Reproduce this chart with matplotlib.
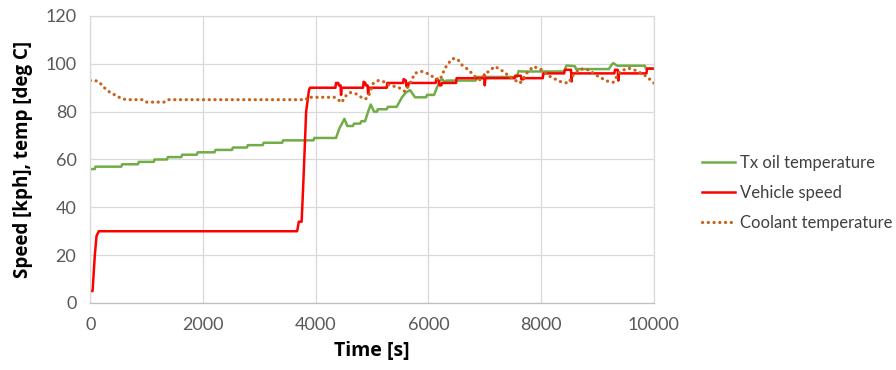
import numpy as np
from matplotlib import pyplot as plt

# Tx oil temperature (deg C) vs time (s)
tx_t = [0, 80, 90, 550, 565, 845, 860, 1125, 1140, 1360, 1375, 1615, 1630, 1890, 1905,
        2205, 2220, 2515, 2530, 2780, 2795, 3060, 3075, 3405, 3420, 3960, 3975, 4360,
        4420, 4510, 4560, 4660, 4680, 4790, 4810, 4875, 4930, 4976, 5035, 5090, 5100,
        5260, 5280, 5437, 5530, 5600, 5674, 5762, 5960, 5975, 6100, 6150, 6206, 6250,
        6300, 6320, 6840, 6860, 7570, 7600, 7650, 8410, 8450, 8600, 8620, 9200, 9250,
        9280, 9350, 9840, 9860, 10000]
tx_v = [56, 56, 57, 57, 58, 58, 59, 59, 60, 60, 61, 61, 62, 62, 63,
        63, 64, 64, 65, 65, 66, 66, 67, 67, 68, 68, 69, 69,
        73, 77, 74, 74, 75, 75, 76, 76, 80, 83, 80, 80, 81,
        81, 82, 82, 86, 88, 89, 86, 86, 87, 87, 90, 93, 93.5,
        92, 93, 93, 94.5, 94.5, 97, 96.8, 96.8, 99.3, 99, 97.8, 97.8, 99.5,
        100.3, 99.2, 99.2, 98, 98]

# Vehicle speed (kph)
spd_t = [0, 40, 80, 110, 150, 3670, 3700, 3750, 3780, 3830, 3880, 3900,
         4350, 4360, 4400, 4410, 4440, 4450, 4460, 4840, 4850, 4880, 4890, 4920,
         4930, 4940, 5260, 5270, 5550, 5560, 5600, 5610, 5640, 5650, 6130, 6140,
         6180, 6200, 6230, 6240, 6490, 6500, 6980, 6990, 7000, 7010, 7530, 7540,
         7640, 7650, 7680, 7690, 8030, 8040, 8410, 8420, 8530, 8540, 8550, 9300,
         9310, 9360, 9370, 9380, 9870, 9880, 10000]
spd_v = [5, 5, 20, 28, 30, 30, 34, 34, 50, 80, 89, 90,
         90, 92, 92, 91, 91, 87, 90, 90, 92.5, 92, 91, 91,
         87.5, 90, 90, 92, 92, 93.6, 93, 90.5, 90.5, 92, 92, 93.6,
         93, 91, 91, 92, 92, 94, 94, 95.5, 91, 94, 94, 95,
         95, 93.5, 93.5, 94, 94, 96, 96, 97.5, 97.5, 92.6, 96, 96,
         97.5, 97.5, 93, 96, 96, 98, 98]

# Coolant temperature (deg C)
cool_t = [0, 83, 150, 250, 350, 435, 550, 645, 940, 1000, 1320, 1385, 3830, 3850,
          4330, 4400, 4461, 4520, 4609, 4698, 4786, 4875, 4930, 5023, 5111, 5200,
          5289, 5407, 5496, 5585, 5674, 5762, 5881, 6000, 6117, 6206, 6295, 6413,
          6472, 6531, 6591, 6709, 6827, 6916, 7064, 7182, 7329, 7478, 7626, 7744,
          7862, 8010, 8158, 8336, 8483, 8572, 8690, 8838, 9015, 9193, 9281, 9400,
          9548, 9697, 9874, 10000]
cool_v = [93, 93, 92.5, 90, 88, 87, 85.5, 85, 85, 84, 84, 85, 85, 86,
          86, 85, 83.8, 86.3, 88, 87.7, 86.3, 85.2, 86, 91.9, 93, 92.6,
          91.2, 90.5, 89.8, 88.4, 91.9, 96.1, 96.8, 95.8, 94, 93.3, 98.2, 102,
          102.3, 101.5, 99.6, 97.5, 94.7, 93.3, 96.8, 98.9, 96.8, 94, 91.9, 96.1,
          98.9, 97.5, 94.7, 92.6, 91.9, 95.4, 97.9, 97.5, 94.7, 92.6, 92.3, 96.8,
          98.2, 97.1, 94.7, 92]

plt.rcParams['font.family'] = ['Lato', 'DejaVu Sans']

fig = plt.figure(figsize=(8.96, 3.70), dpi=100)
ax = fig.add_axes([0.1008, 0.1811, 0.6289, 0.7757])

ax.plot(tx_t, tx_v, color='#70AD47', linewidth=1.8, label='Tx oil temperature')
ax.plot(spd_t, spd_v, color='#FF0000', linewidth=1.8, label='Vehicle speed')
ax.plot(cool_t, cool_v, color='#C8621C', linewidth=2.3, linestyle=(0, (0.05, 1.75)),
        dash_capstyle='round', label='Coolant temperature')

ax.set_xlim(0, 10000)
ax.set_ylim(0, 120)
ax.set_xticks(np.arange(0, 10001, 2000))
ax.set_yticks(np.arange(0, 121, 20))
ax.grid(True, color='#D9D9D9', linewidth=0.9)
ax.set_axisbelow(True)
for k, s in ax.spines.items():
    s.set_color('#D9D9D9')
    s.set_linewidth(0.9)
ax.spines['bottom'].set_color('#BFBFBF')
ax.tick_params(length=0, labelsize=13, labelcolor='#595959', pad=10)

ax.set_xlabel('Time [s]', fontsize=14, fontweight='bold', family='Open Sans', labelpad=6)
ax.set_ylabel('Speed [kph], temp [deg C]', fontsize=13.5, fontweight='bold',
              family='Open Sans', labelpad=9)

ax.legend(loc='upper left', bbox_to_anchor=(1.07, 0.545), frameon=False, fontsize=12,
          handlelength=2.0, handletextpad=0.3, labelspacing=0.85, borderpad=0,
          labelcolor='#404040')

plt.savefig('out.png', dpi=100)
